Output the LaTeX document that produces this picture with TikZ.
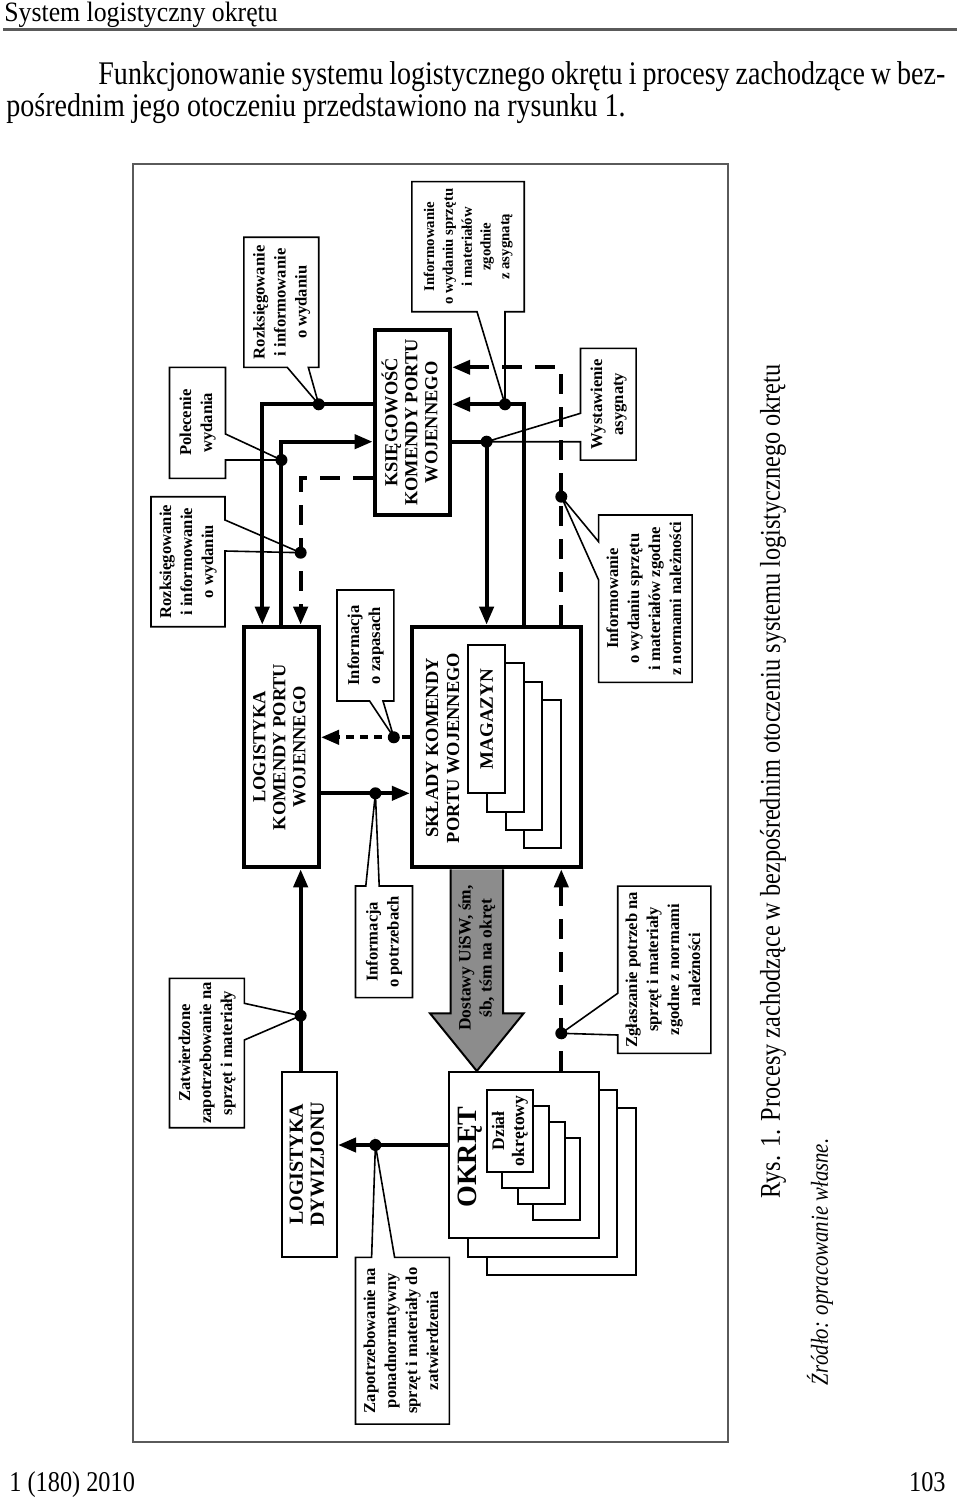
\documentclass[tikz,border=0pt]{standalone}
\usepackage{fontspec}
\usepackage{graphicx}
\usetikzlibrary{arrows.meta}
\setmainfont{Liberation Serif}
\newfontfamily\pagefont[FakeStretch=0.85]{Liberation Serif}
\newfontfamily\headfont[FakeStretch=0.92]{Liberation Serif}
\definecolor{framegray}{HTML}{5A5A5A}
\definecolor{arrowgray}{HTML}{8C8C8C}
\newcommand{\vtext}[1]{\rotatebox{90}{\begin{tabular}{@{}c@{}}#1\end{tabular}}}

\begin{document}
\begin{tikzpicture}[x=0.5pt, y=-0.5pt]
    % Styles
    \tikzstyle{mainbox} = [rectangle, draw, line width=2pt, fill=white, inner sep=0pt, font=\bfseries\fontsize{9.2}{10}\selectfont]
    \tikzstyle{plainbox} = [rectangle, draw, line width=1pt, fill=white, inner sep=0pt, font=\bfseries\fontsize{8.8}{10}\selectfont]
    \tikzstyle{callout} = [rectangle, inner sep=0pt, outer sep=0pt, font=\bfseries\fontsize{8.3}{10.5}\selectfont]
    \tikzstyle{bubble} = [line width=0.8pt, line join=miter]
    \tikzstyle{stackbox} = [line width=1pt, fill=white]
    \tikzstyle{dot} = [circle, fill, inner sep=0pt, minimum size=6pt]
    \tikzstyle{flow} = [line width=2pt, -{Triangle[length=9pt,width=7pt]}]
    \tikzstyle{dflow} = [flow, dash pattern=on 10pt off 6.5pt]
    \tikzstyle{pflow} = [flow, dash pattern=on 4pt off 3pt]
    \tikzstyle{pagetext} = [inner sep=0pt, font=\pagefont\fontsize{16.5}{20}\selectfont]

    \useasboundingbox (0,0) rectangle (960,1498);

    % Page text
    \node[pagetext, anchor=base west, font=\headfont\fontsize{14}{17}\selectfont] (header) at (4,22) {System logistyczny okrętu};
    \draw[line width=1.2pt, framegray] (3,29.5) -- (957,29.5);
    \node[pagetext, anchor=base west] (para1) at (98,85) {\makebox[423.5pt][s]{Funkcjonowanie systemu logistycznego okrętu i procesy zachodzące w bez-}};
    \node[pagetext, anchor=base west] (para2) at (6,116.7) {pośrednim jego otoczeniu przedstawiono na rysunku 1.};
    \node[pagetext, rotate=90, font=\pagefont\fontsize{14.3}{17}\selectfont] (caption) at (773,781.5) {Rys. 1. Procesy zachodzące w bezpośrednim otoczeniu systemu logistycznego okrętu};
    \node[pagetext, rotate=90, font=\pagefont\itshape\fontsize{12.2}{15}\selectfont] (source) at (820,1262) {Źródło: opracowanie własne.};
    \node[pagetext, anchor=base west, font=\pagefont\fontsize{14.3}{17}\selectfont] (issue) at (9,1491) {1 (180) 2010};
    \node[pagetext, anchor=base east, font=\pagefont\fontsize{14.3}{17}\selectfont] (pageno) at (946,1491) {103};

    % Frame
    \draw[line width=0.7pt, framegray] (133,164) rectangle (728,1442);

    % Main boxes
    \node[mainbox, minimum width=37.8pt, minimum height=92.5pt] (ksieg) at (412.4,422.5) {\vtext{KSIĘGOWOŚĆ\\KOMENDY PORTU\\WOJENNEGO}};
    \node[mainbox, minimum width=37.55pt, minimum height=120.3pt] (logkpw) at (281.45,747) {\vtext{LOGISTYKA\\KOMENDY PORTU\\WOJENNEGO}};
    \node[mainbox, minimum width=84.35pt, minimum height=120.3pt] (sklady) at (496.15,747) {};
    \node[rotate=90, align=center, font=\bfseries\fontsize{9.2}{10.5}\selectfont] (skladytxt) at (442.7,748) {SKŁADY KOMENDY\\PORTU WOJENNEGO};
    \foreach \i in {3,2,1}
        \draw[stackbox] (468.2+\i*18.67,645+\i*18.33) rectangle +(36.8,148.3);
    \node[plainbox, minimum width=18.4pt, minimum height=74.15pt, font=\bfseries\fontsize{9.5}{11}\selectfont] (magazyn) at (486.6,719.15) {\rotatebox{90}{MAGAZYN}};

    \node[plainbox, minimum width=27.75pt, minimum height=92.5pt, font=\bfseries\fontsize{10}{10.5}\selectfont] (logdyw) at (309.25,1164.2) {\vtext{LOGISTYKA\\DYWIZJONU}};
    \foreach \i in {2,1}
        \draw[stackbox] (449.4+\i*18.6,1071.7+\i*18.3) rectangle +(149.2,166.6);
    \node[plainbox, minimum width=74.6pt, minimum height=83.3pt] (okret) at (524,1155) {};
    \node[rotate=90, font=\bfseries\fontsize{14}{16}\selectfont] (okrettxt) at (470,1157) {OKRĘT};
    \foreach \i in {3,2,1}
        \draw[stackbox] (486.6+\i*15.6,1090+\i*16.1) rectangle +(46.8,81.7);
    \node[plainbox, minimum width=23.4pt, minimum height=40.85pt] (dzial) at (510,1130.85) {\vtext{Dział\\okrętowy}};

    % Big supply arrow
    \filldraw[fill=arrowgray, line width=1pt] (450.5,869.3) -- (450.5,1013.3) -- (430,1013.3) -- (476.8,1071) -- (523.6,1013.3) -- (503,1013.3) -- (503,869.3);
    \node[rotate=90, align=center, font=\bfseries\fontsize{8.7}{10.5}\selectfont] (dostawy) at (477,958) {Dostawy UiSW, śm,\\śb, tśm na okręt};

    % Callouts
    \node[callout, minimum width=56.2pt, minimum height=65pt, font=\bfseries\fontsize{7.4}{9.4}\selectfont] (c_asyg) at (468,246.7) {\vtext{Informowanie\\o wydaniu sprzętu\\i materiałów\\zgodnie\\z asygnatą}};
    \node[callout, minimum width=37.4pt, minimum height=65pt] (c_rozks1) at (281.3,302.3) {\vtext{Rozksięgowanie\\i informowanie\\o wydaniu}};
    \node[callout, minimum width=28pt, minimum height=55.5pt] (c_polec) at (197.5,422.8) {\vtext{Polecenie\\wydania}};
    \node[callout, minimum width=27.8pt, minimum height=55.85pt] (c_wyst) at (608.3,404.2) {\vtext{Wystawienie\\asygnaty}};
    \node[callout, minimum width=37pt, minimum height=65pt] (c_rozks2) at (188,561.7) {\vtext{Rozksięgowanie\\i informowanie\\o wydaniu}};
    \node[callout, minimum width=28.4pt, minimum height=55.5pt] (c_zapasy) at (365.4,645.5) {\vtext{Informacja\\o zapasach}};
    \node[callout, minimum width=46.75pt, minimum height=83.65pt] (c_normy) at (645.35,598.65) {\vtext{Informowanie\\o wydaniu sprzętu\\i materiałów zgodne\\z normami należności}};
    \node[callout, minimum width=37.4pt, minimum height=74.7pt] (c_zatw) at (206.9,1053) {\vtext{Zatwierdzone\\zapotrzebowanie na\\sprzęt i materiały}};
    \node[callout, minimum width=28.5pt, minimum height=55.85pt] (c_potrz) at (384,941.8) {\vtext{Informacja\\o potrzebach}};
    \node[callout, minimum width=46.6pt, minimum height=83.65pt] (c_zglasz) at (664.3,969.7) {\vtext{Zgłaszanie potrzeb na\\sprzęt i materiały\\zgodne z normami\\należności}};
    \node[callout, minimum width=46.95pt, minimum height=83.35pt] (c_zapotrz) at (402.45,1340.7) {\vtext{Zapotrzebowanie na\\ponadnormatywny\\sprzęt i materiały do\\zatwierdzenia}};

    % Dots
    \node[dot] (d_rozks1) at (318.7,404.3) {};
    \node[dot] (d_polec) at (281.45,460) {};
    \node[dot] (d_rozks2) at (300.65,552.7) {};
    \node[dot] (d_asyg) at (505,404.3) {};
    \node[dot] (d_wyst) at (486.6,441.7) {};
    \node[dot] (d_normy) at (561.3,496.7) {};
    \node[dot] (d_zapasy) at (393.8,737.3) {};
    \node[dot] (d_potrz) at (375.4,793.3) {};
    \node[dot] (d_zatw) at (300.65,1015.7) {};
    \node[dot] (d_zglasz) at (561.3,1033.3) {};
    \node[dot] (d_zapotrz) at (375.4,1145) {};

    % Arrows
    \draw[flow] (ksieg.west |- d_rozks1) -| ([xshift=-9.6pt]logkpw.north);
    \draw[flow] (logkpw.north) |- (ksieg.west |- d_wyst);
    \draw[dflow] ([yshift=-27.9pt]ksieg.west) -| ([xshift=9.6pt]logkpw.north);
    \draw[flow] ([xshift=14pt]sklady.north) |- (ksieg.east |- d_asyg);
    \draw[flow] (ksieg.east |- d_wyst) -| (sklady.north -| d_wyst);
    \draw[dflow] (sklady.north -| d_normy) |- ([yshift=27.6pt]ksieg.east);
    \draw[pflow] (sklady.west |- d_zapasy) -- (logkpw.east |- d_zapasy);
    \draw[flow] (logkpw.east |- d_potrz) -- (sklady.west |- d_potrz);
    \draw[flow] (logdyw.north -| d_zatw) -- (logkpw.south -| d_zatw);
    \draw[flow] (okret.west |- d_zapotrz) -- (logdyw.east |- d_zapotrz);
    \draw[dflow] (okret.north -| d_zglasz) -- (sklady.south -| d_zglasz);

    % Callout outlines
    \draw[bubble] (c_asyg.south west) -- (c_asyg.north west) -- (c_asyg.north east) -- (c_asyg.south east) -- (c_asyg.south -| 505,0) -- (d_asyg.center) -- (c_asyg.south -| 477,0) -- cycle;
    \draw[bubble] (c_rozks1.south west) -- (c_rozks1.north west) -- (c_rozks1.north east) -- (c_rozks1.south east) -- (c_rozks1.south -| 308.3,0) -- (d_rozks1.center) -- (c_rozks1.south -| 287.2,0) -- cycle;
    \draw[bubble] (c_zapasy.south west) -- (c_zapasy.north west) -- (c_zapasy.north east) -- (c_zapasy.south east) -- (c_zapasy.south -| 383,0) -- (d_zapasy.center) -- (c_zapasy.south -| 369.6,0) -- cycle;
    \draw[bubble] (c_polec.north west) -- (c_polec.north east) -- (c_polec.east |- 0,434) -- (d_polec.center) -- (c_polec.east |- 0,460) -- (c_polec.south east) -- (c_polec.south west) -- cycle;
    \draw[bubble] (c_rozks2.north west) -- (c_rozks2.north east) -- (c_rozks2.east |- 0,520) -- (d_rozks2.center) -- (c_rozks2.east |- 0,551) -- (c_rozks2.south east) -- (c_rozks2.south west) -- cycle;
    \draw[bubble] (c_zatw.north west) -- (c_zatw.north east) -- (c_zatw.east |- 0,1003.3) -- (d_zatw.center) -- (c_zatw.east |- 0,1040) -- (c_zatw.south east) -- (c_zatw.south west) -- cycle;
    \draw[bubble] (c_wyst.north east) -- (c_wyst.south east) -- (c_wyst.south west) -- (c_wyst.west |- 0,441.7) -- (d_wyst.center) -- (c_wyst.west |- 0,413.3) -- (c_wyst.north west) -- cycle;
    \draw[bubble] (c_normy.north east) -- (c_normy.south east) -- (c_normy.south west) -- (c_normy.west |- 0,580) -- (d_normy.center) -- (c_normy.west |- 0,541.7) -- (c_normy.north west) -- cycle;
    \draw[bubble] (c_zglasz.north east) -- (c_zglasz.south east) -- (c_zglasz.south west) -- (c_zglasz.west |- 0,1035) -- (d_zglasz.center) -- (c_zglasz.west |- 0,993.3) -- (c_zglasz.north west) -- cycle;
    \draw[bubble] (c_potrz.south west) -- (c_potrz.south east) -- (c_potrz.north east) -- (c_potrz.north -| 379.2,0) -- (d_potrz.center) -- (c_potrz.north -| 365.8,0) -- (c_potrz.north west) -- cycle;
    \draw[bubble] (c_zapotrz.south west) -- (c_zapotrz.south east) -- (c_zapotrz.north east) -- (c_zapotrz.north -| 394.6,0) -- (d_zapotrz.center) -- (c_zapotrz.north -| 371.6,0) -- (c_zapotrz.north west) -- cycle;
\end{tikzpicture}
\end{document}
